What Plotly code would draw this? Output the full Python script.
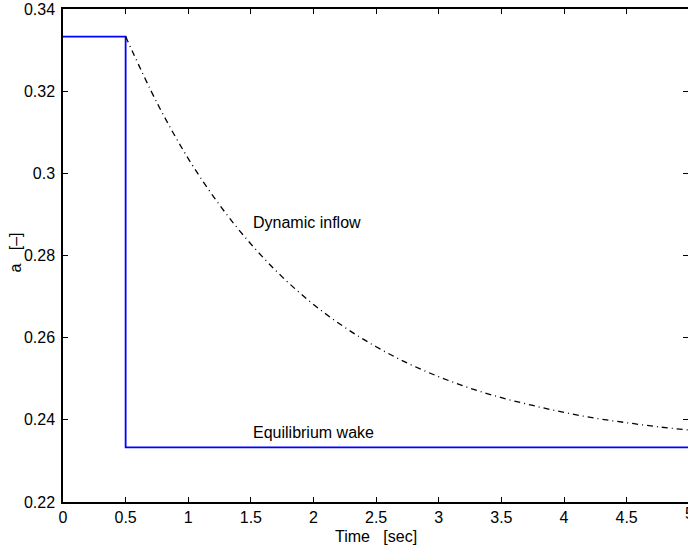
import plotly.graph_objects as go

# Equilibrium wake (step response)
eq_t = [0.0, 0.5, 0.5, 5.0]
eq_a = [0.3333, 0.3333, 0.2333, 0.2333]

# Dynamic inflow
dyn_t = [0.5, 0.75, 1.0, 1.25, 1.5, 1.75, 2.0, 2.25, 2.5, 2.75, 3.0,
         3.25, 3.5, 3.75, 4.0, 4.25, 4.5, 4.75, 5.0]
dyn_a = [0.3333, 0.3172, 0.3036, 0.2923, 0.2828, 0.2748, 0.2681, 0.2625,
         0.2578, 0.2538, 0.2505, 0.2477, 0.2454, 0.2435, 0.2418, 0.2404,
         0.2393, 0.2383, 0.2375]

x_ticks = [0, 0.5, 1, 1.5, 2, 2.5, 3, 3.5, 4, 4.5]
x_tick_text = ["0", "0.5", "1", "1.5", "2", "2.5", "3", "3.5", "4", "4.5"]
y_ticks = [0.22, 0.24, 0.26, 0.28, 0.30, 0.32, 0.34]
y_tick_text = ["0.22", "0.24", "0.26", "0.28", "0.3", "0.32", "0.34"]
X_MAX = 4.99
X_LAST_TICK = 5

FONT = "Liberation Sans, Arial, Helvetica, sans-serif"
FS = 16

fig = go.Figure()
fig.add_trace(go.Scatter(x=eq_t, y=eq_a, mode="lines",
                         line=dict(color="#0000ff", width=1.8),
                         showlegend=False, hoverinfo="skip"))
fig.add_trace(go.Scatter(x=dyn_t, y=dyn_a, mode="lines",
                         line=dict(color="black", width=1.3, dash="6px,4px,1px,4px",
                                   shape="spline"),
                         showlegend=False, hoverinfo="skip"))
# invisible trace on y2 so that right-side ticks are drawn
fig.add_trace(go.Scatter(x=[0], y=[0.3], yaxis="y2", mode="markers",
                         marker=dict(opacity=0), showlegend=False, hoverinfo="skip"))

fig.update_layout(
    width=688, height=548,
    margin=dict(l=63, r=0, t=9, b=46),
    paper_bgcolor="white", plot_bgcolor="white",
    font=dict(family=FONT, size=FS, color="black"),
    xaxis=dict(range=[0, X_MAX], tickvals=x_ticks, ticktext=x_tick_text,
               ticks="inside", ticklen=5, tickwidth=1, tickcolor="black",
               showline=True, linecolor="black", linewidth=1.5, mirror="ticks",
               showgrid=False, zeroline=False, automargin=False,
               ticklabeloverflow="allow",
               tickfont=dict(size=FS)),
    yaxis=dict(range=[0.22, 0.34], tickvals=y_ticks, ticktext=y_tick_text,
               ticks="inside", ticklen=5, tickwidth=1, tickcolor="black",
               showline=True, linecolor="black", linewidth=1.5, mirror=False,
               showgrid=False, zeroline=False, automargin=False,
               ticklabelstandoff=3, ticklabeloverflow="allow",
               tickfont=dict(size=FS)),
    yaxis2=dict(range=[0.22, 0.34], tickvals=y_ticks, overlaying="y", side="right",
                ticks="inside", ticklen=5, tickwidth=1, tickcolor="black",
                showticklabels=False, showline=False, showgrid=False,
                zeroline=False, automargin=False),
    annotations=[
        dict(x=1.5, y=0.288, xref="x", yref="y", text="Dynamic inflow",
             showarrow=False, xanchor="left", yanchor="middle"),
        dict(x=1.5, y=0.237, xref="x", yref="y", text="Equilibrium wake",
             showarrow=False, xanchor="left", yanchor="middle"),
        dict(x=X_LAST_TICK / X_MAX, y=0, xref="paper", yref="paper", text="5",
             showarrow=False, xanchor="center", yanchor="top", yshift=-1),
        dict(x=0.5, y=0, xref="paper", yref="paper", text="Time   [sec]",
             showarrow=False, xanchor="center", yanchor="middle", yshift=-34),
        dict(x=0, y=0.5, xref="paper", yref="paper", text="a   [\u2013]",
             textangle=-90, showarrow=False, xanchor="center", yanchor="middle",
             xshift=-48, yshift=3),
    ],
)

fig.write_html("out.html",
               config={"displayModeBar": False},
               post_script="document.body.style.margin='0';"
                           "document.body.style.overflow='hidden';")
